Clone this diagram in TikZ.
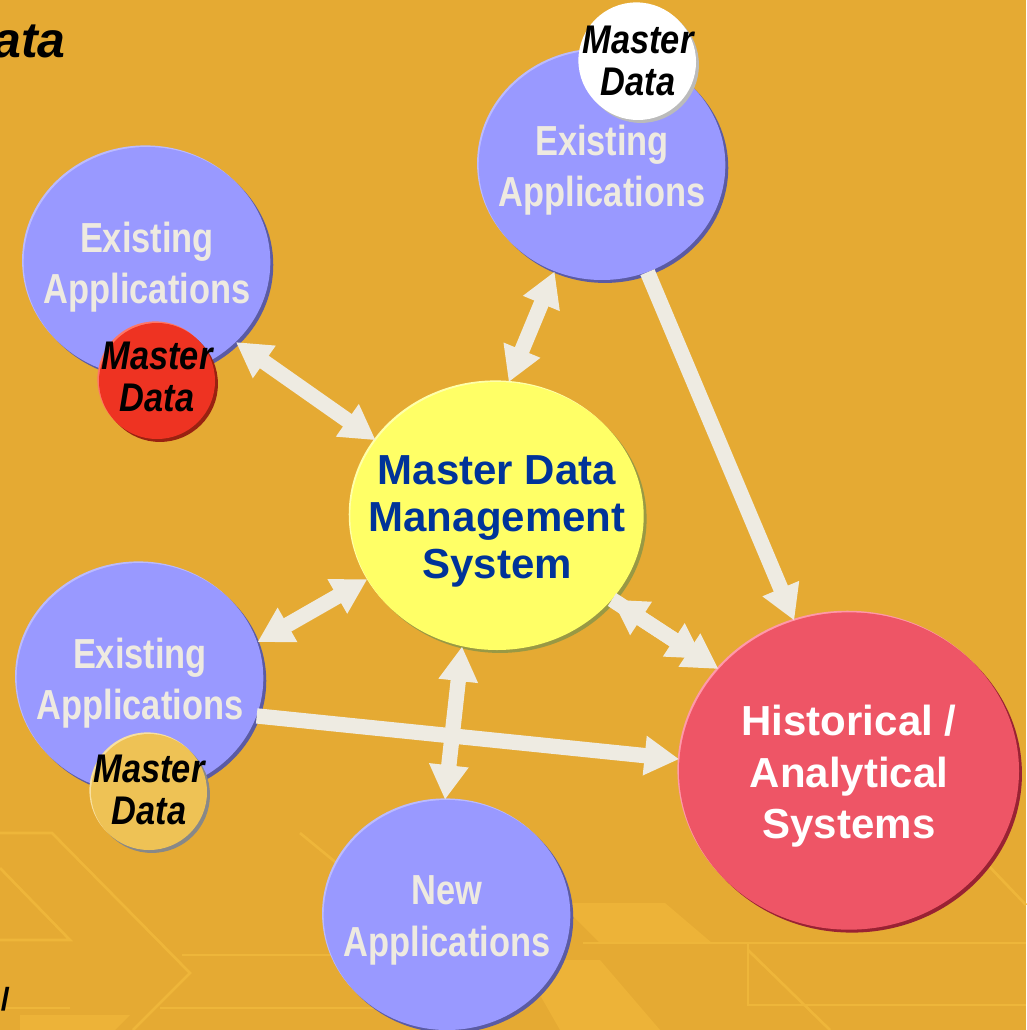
\documentclass[tikz,border=0pt]{standalone}
\usepackage{fontspec}
\setmainfont{Liberation Sans}
\newfontfamily\narrowfont[FakeStretch=0.82]{Liberation Sans}
\newfontfamily\mdfont[FakeStretch=0.86]{Liberation Sans}
\usetikzlibrary{shapes.geometric,arrows.meta,shadows}
\definecolor{bg}{HTML}{E5AA33}
\definecolor{patc}{HTML}{EEB63A}
\definecolor{patf}{HTML}{EDB338}
\definecolor{blueF}{HTML}{9999FF}
\definecolor{blueD}{HTML}{5B5BA3}
\definecolor{blueL}{HTML}{BBBBFF}
\definecolor{apptext}{HTML}{EEEAE0}
\definecolor{redF}{HTML}{EE3322}
\definecolor{redD}{HTML}{992211}
\definecolor{redL}{HTML}{FF7766}
\definecolor{goldF}{HTML}{EEC255}
\definecolor{goldD}{HTML}{888888}
\definecolor{goldL}{HTML}{F8E0A0}
\definecolor{whiteD}{HTML}{BBBBBB}
\definecolor{yelF}{HTML}{FFFF66}
\definecolor{yelD}{HTML}{999944}
\definecolor{yelL}{HTML}{FFFFAA}
\definecolor{mdmtext}{HTML}{003399}
\definecolor{histF}{HTML}{EE5566}
\definecolor{histD}{HTML}{992233}
\definecolor{histL}{HTML}{FF99AA}
\definecolor{arrowc}{HTML}{EEEBE2}
\begin{document}
\begin{tikzpicture}[x=0.75pt,y=-0.75pt,
  rim/.style n args={3}{fill=#1,
    general shadow={fill=#3, shadow xshift=-1.2pt, shadow yshift=1.2pt},
    drop shadow={fill=#2, opacity=1, shadow xshift=2.2pt, shadow yshift=-2.2pt}},
  appl/.style={ellipse, inner sep=0pt, minimum width=185pt, minimum height=172.5pt,
    rim={blueF}{blueD}{blueL}},
  apptxt/.style={align=center, text=apptext, yshift=-4pt,
    font=\narrowfont\bfseries\fontsize{31.5}{38.5}\selectfont},
  mdc/.style={circle, inner sep=0pt, minimum size=87pt},
  mdtxt/.style={align=center, text=black,
    font=\mdfont\bfseries\itshape\fontsize{30}{31.5}\selectfont},
  mdm/.style={ellipse, inner sep=0pt, minimum width=220pt, minimum height=201pt,
    rim={yelF}{yelD}{yelL}},
  mdmtxt/.style={align=center, text=mdmtext, yshift=-4pt,
    font=\bfseries\fontsize{31.5}{35.5}\selectfont},
  hist/.style={ellipse, inner sep=0pt, minimum width=255pt, minimum height=238pt,
    rim={histF}{histD}{histL}},
  histtxt/.style={align=center, text=white, yshift=-4pt,
    font=\bfseries\fontsize{31.5}{38.6}\selectfont},
  pat/.style={draw=patc, line width=2pt},
  arr/.style={draw=arrowc, line width=11.5pt},
  biarr/.style={arr, {Triangle[length=26pt,width=28pt]}-{Triangle[length=26pt,width=28pt]}},
  onearr/.style={arr, -{Triangle[length=26pt,width=28pt]}}
]
\useasboundingbox (0,0) rectangle (1026,1030);
\fill[bg] (0,0) rectangle (1026,1030);

% faint background pattern
\fill[patf] (560,903) -- (665,903) -- (712,943) -- (600,943) -- cycle;
\fill[patf] (520,960) -- (600,960) -- (660,1030) -- (560,1030) -- cycle;
\fill[patf] (20,1015) -- (130,1015) -- (115,1030) -- (20,1030) -- cycle;
\draw[pat] (0,833) -- (52,833) -- (190,973) -- (133,1030);
\draw[pat] (0,868) -- (70,940) -- (0,940);
\draw[pat] (182,955) -- (560,955);
\draw[pat] (0,1008) -- (70,1008);
\draw[pat] (160,1008) -- (420,1008);
\draw[pat] (300,833) -- (345,870);
\draw[pat] (583,943) -- (1026,943);
\draw[pat] (748,943) -- (748,1005) -- (1026,1005);
\draw[pat] (748,950) -- (830,1030);
\draw[pat] (985,862) -- (1026,905);

% application circles
\node[appl, label={[apptxt]center:{Existing\\Applications}}] (tl) at (147,262) {};
\node[appl, label={[apptxt]center:{Existing\\Applications}}] (tr) at (602,165) {};
\node[appl, label={[apptxt]center:{Existing\\Applications}}] (le) at (140,678) {};
\node[appl, label={[apptxt]center:{New\\Applications}}] (new) at (447,915) {};
\node[mdm, label={[mdmtxt]center:{Master Data\\Management\\System}}] (mdm) at (497,516) {};
\node[hist, label={[histtxt]center:{Historical /\\Analytical\\Systems}}] (hist) at (849,771) {};

% master data badges
\node[mdc, rim={redF}{redD}{redL}, label={[mdtxt, yshift=3pt]center:{Master\\Data}}] (mdr) at (157,381) {};
\node[mdc, rim={white}{whiteD}{white}, label={[mdtxt, yshift=1pt]center:{Master\\Data}}] (mdw) at (638,62) {};
\node[mdc, rim={goldF}{goldD}{goldL}, label={[mdtxt, yshift=1.5pt]center:{Master\\Data}}] (mdg) at (149,792) {};

% connectors
\draw[biarr] (tl.-42) -- (mdm.148);
\draw[biarr] (tr.-114.5) -- (mdm.85);
\draw[onearr] (tr.-67) -- (hist.110.6);
\draw[biarr] (mdm.-36.5) -- (hist.142.6);
\draw[onearr, shorten >=14pt] (mdm.-36.5) -- (hist.142.6);
\draw[biarr] (mdm.206) -- (le.17);
\draw[biarr] (mdm.-105) -- (new.91);
\draw[onearr] (le.-18) -- (hist.176);

% cut-off texts
\node[anchor=base west, inner sep=0pt, font=\bfseries\itshape\fontsize{37.5}{37.5}\selectfont] (ttl) at (-43,58) {Data};
\node[anchor=base east, inner sep=0pt, font=\bfseries\fontsize{24}{24}\selectfont] (slash) at (10,1010) {/};
\end{tikzpicture}
\end{document}
